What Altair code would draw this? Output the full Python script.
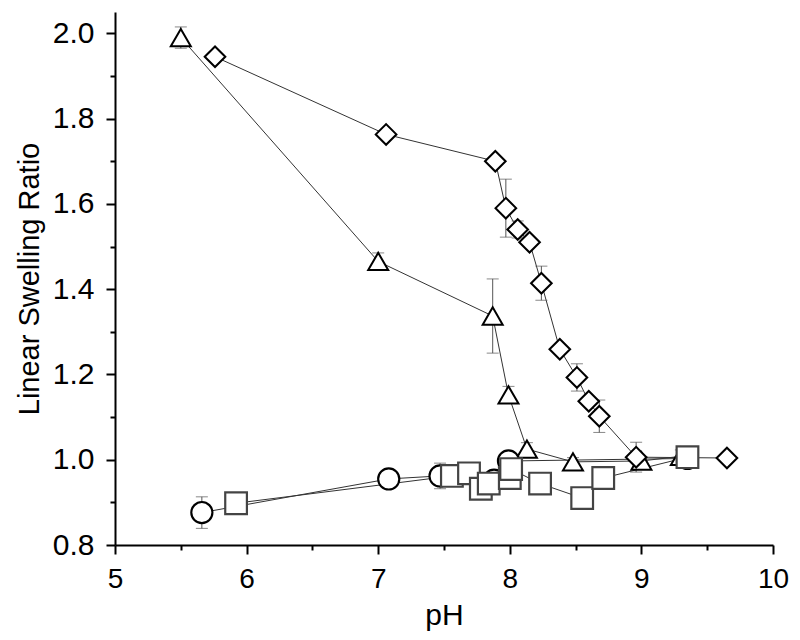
import altair as alt
import pandas as pd

# ---- data ----
tri_ph = [5.50, 7.00, 7.87, 7.99, 8.13, 8.48, 9.00, 9.30]
tri_ratio = [1.990, 1.465, 1.337, 1.152, 1.025, 0.995, 0.997, 1.008]
tri_err = [0.025, 0.02, 0.087, 0.02, 0.015, 0.01, 0.01, 0.015]

dia_ph = [5.76, 7.06, 7.89, 7.97, 8.06, 8.15, 8.24, 8.38, 8.51, 8.60, 8.68, 8.96, 9.65]
dia_ratio = [1.945, 1.763, 1.700, 1.590, 1.540, 1.510, 1.414, 1.259, 1.193, 1.137, 1.102, 1.006, 1.004]
dia_err = [0.01, 0.01, 0.01, 0.068, 0.02, 0.01, 0.04, 0.01, 0.032, 0.01, 0.038, 0.035, 0.01]

cir_ph = [5.66, 7.08, 7.47, 7.88, 7.99, 9.35]
cir_ratio = [0.876, 0.955, 0.962, 0.952, 0.997, 1.003]
cir_err = [0.037, 0.01, 0.03, 0.01, 0.01, 0.01]

sq_ph = [5.92, 7.56, 7.69, 7.78, 7.84, 8.00, 8.01, 8.23, 8.55, 8.71, 9.35]
sq_ratio = [0.898, 0.962, 0.968, 0.932, 0.944, 0.957, 0.978, 0.944, 0.910, 0.957, 1.006]
sq_err = [0.005, 0.005, 0.005, 0.01, 0.01, 0.01, 0.01, 0.008, 0.008, 0.008, 0.01]

series_names = ["triangle", "diamond", "circle", "square"]
shapes = ["triangle-up", "diamond", "circle", "square"]
sizes = [400, 470, 270, 155]
strokes = ["#000000", "#000000", "#000000", "#444444"]
stroke_widths = [2.0, 2.2, 1.6, 1.5]

x_ticks = [5, 5.5, 6, 6.5, 7, 7.5, 8, 8.5, 9, 9.5, 10]
y_ticks = [0.8, 0.9, 1.0, 1.1, 1.2, 1.3, 1.4, 1.5, 1.6, 1.7, 1.8, 1.9, 2.0]

X_TITLE = "pH"
Y_TITLE = "Linear Swelling Ratio"

rows = []
for name, phs, rs, es in [
    ("triangle", tri_ph, tri_ratio, tri_err),
    ("diamond", dia_ph, dia_ratio, dia_err),
    ("circle", cir_ph, cir_ratio, cir_err),
    ("square", sq_ph, sq_ratio, sq_err),
]:
    for i, (p, r, e) in enumerate(zip(phs, rs, es)):
        rows.append({"series": name, "order": i, "pH": p, "ratio": r, "err": e})
df = pd.DataFrame(rows)

xscale = alt.Scale(domain=[5, 10], nice=False, zero=False)
yscale = alt.Scale(domain=[0.8, 2.05], nice=False, zero=False)

xaxis = alt.Axis(
    values=x_ticks,
    format=".0f",
    labelExpr="datum.value % 1 === 0 ? format(datum.value, 'd') : ''",
    tickSize={"condition": {"test": "datum.value % 1 !== 0", "value": 5}, "value": 9},
    labelFlush=False,
    labelOverlap=False,
    labelPadding=11,
    labelFontSize=28,
    titlePadding=7,
)
yaxis = alt.Axis(
    values=y_ticks,
    format=".1f",
    labelExpr="round(datum.value * 10) % 2 === 0 ? format(datum.value, '.1f') : ''",
    tickSize={"condition": {"test": "round(datum.value * 10) % 2 !== 0", "value": 5}, "value": 9},
    labelFlush=False,
    labelOverlap=False,
    labelPadding=12,
    titlePadding=8,
    titleFontSize=29,
)

base = alt.Chart(df)

lines = base.mark_line(color="#333333", strokeWidth=1).encode(
    x=alt.X("pH:Q", scale=xscale, axis=xaxis, title=X_TITLE),
    y=alt.Y("ratio:Q", scale=yscale, axis=yaxis, title=Y_TITLE),
    detail="series:N",
    order="order:Q",
)

errs = base.mark_errorbar(
    ticks={"size": 12, "color": "#555555", "strokeWidth": 1},
    rule={"color": "#555555", "strokeWidth": 1},
).encode(
    x=alt.X("pH:Q", scale=xscale, axis=xaxis, title=X_TITLE),
    y=alt.Y("ratio:Q", scale=yscale, axis=yaxis, title=Y_TITLE),
    yError="err:Q",
    detail="series:N",
)

points = base.mark_point(filled=False, fill="white", fillOpacity=1, opacity=1).encode(
    x=alt.X("pH:Q", scale=xscale, axis=xaxis, title=X_TITLE),
    y=alt.Y("ratio:Q", scale=yscale, axis=yaxis, title=Y_TITLE),
    shape=alt.Shape("series:N", scale=alt.Scale(domain=series_names, range=shapes), legend=None),
    size=alt.Size("series:N", scale=alt.Scale(domain=series_names, range=sizes), legend=None),
    stroke=alt.Stroke("series:N", scale=alt.Scale(domain=series_names, range=strokes), legend=None),
    strokeWidth=alt.StrokeWidth("series:N", scale=alt.Scale(domain=series_names, range=stroke_widths), legend=None),
)

chart = (
    alt.layer(lines, errs, points)
    .properties(
        width=658,
        height=533,
        autosize=alt.AutoSizeParams(type="none"),
        padding={"left": 107, "top": 4, "right": 18, "bottom": 87},
    )
    .configure_view(stroke=None)
    .configure_axis(
        grid=False,
        domainColor="black",
        domainWidth=2,
        tickColor="black",
        tickWidth=2,
        labelFont="Liberation Sans",
        labelFontSize=30,
        labelColor="black",
        titleFont="Liberation Sans",
        titleFontSize=30,
        titleFontWeight="normal",
        titleColor="black",
    )
)

chart.save("out.html", embed_options={"renderer": "svg", "actions": False})
